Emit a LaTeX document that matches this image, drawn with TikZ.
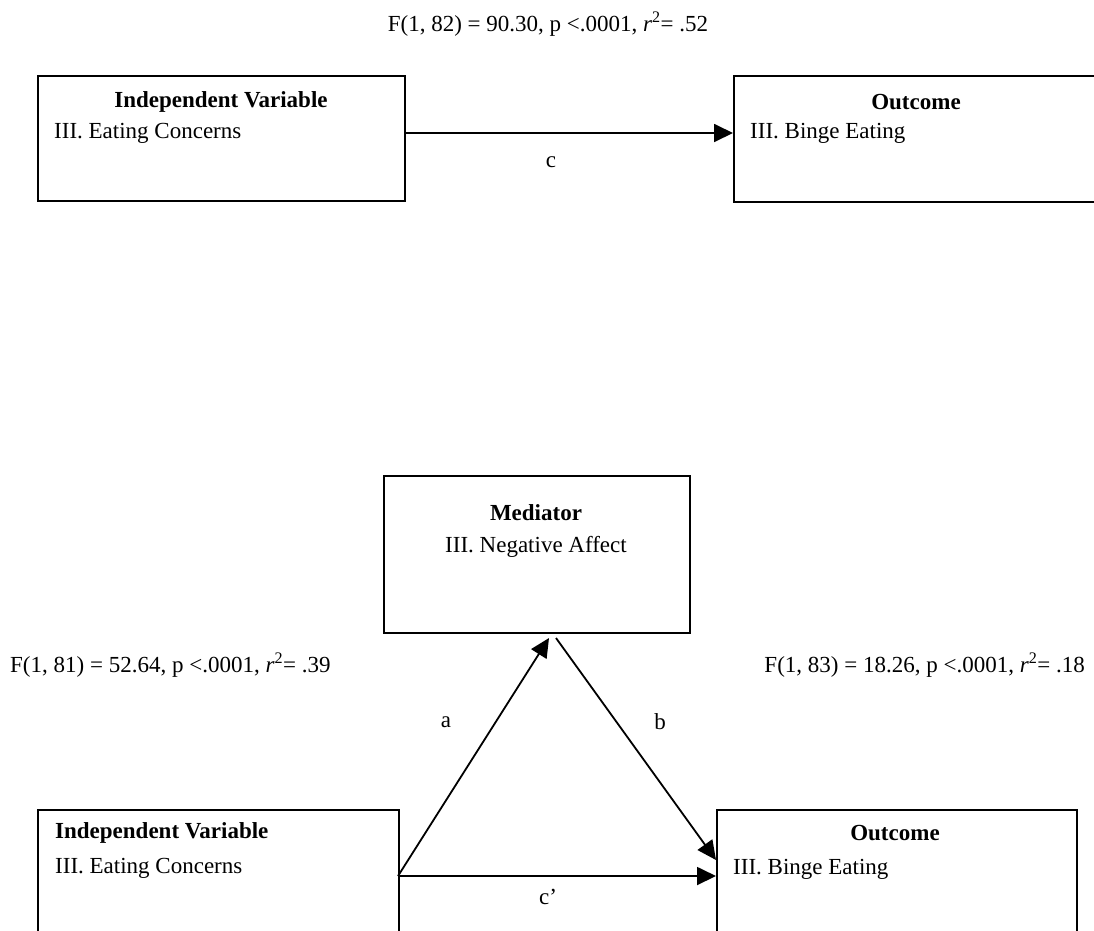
\documentclass[tikz,border=0pt]{standalone}
\usepackage{fontspec}
\setmainfont{Liberation Serif}
\usetikzlibrary{arrows.meta}
\begin{document}
\begin{tikzpicture}[x=1pt,y=-1pt,
  box/.style={draw=black,line width=1.8pt,rectangle,inner sep=0pt,anchor=north west},
  lbl/.style={inner sep=0pt,font=\fontsize{23}{28}\selectfont},
  conn/.style={line width=1.8pt,-{Triangle[length=19pt,width=18pt]}},
  every node/.style={font=\fontsize{23}{28}\selectfont}]
\useasboundingbox (0,0) rectangle (1094,930);
\clip (0,0) rectangle (1094,930);
% ---------- top model ----------
\node[lbl] (stat1) at (548,24) {F(1, 82) = 90.30, p <.0001, \textit{r}\textsuperscript{2}= .52};
\node[box,minimum width=367pt,minimum height=125pt] (ivA) at (37,75) {};
\node[lbl,font=\fontsize{23}{28}\selectfont\bfseries] (ivAh) at (221,102) {Independent Variable};
\node[lbl,anchor=west] (ivAt) at (54,133) {III. Eating Concerns};
\node[box,minimum width=400pt,minimum height=126pt] (ouA) at (733,75) {};
\node[lbl,font=\fontsize{23}{28}\selectfont\bfseries] (ouAh) at (916,102) {Outcome};
\node[lbl,anchor=west] (ouAt) at (750,133) {III. Binge Eating};
\draw[conn] (ivA.east |- ivAt) -- (ouA.west |- ivAt);
\node[lbl] (cA) at (551,162) {c};
% ---------- mediation model ----------
\node[box,minimum width=306pt,minimum height=157pt] (med) at (383,475) {};
\node[lbl,font=\fontsize{23}{28}\selectfont\bfseries] (medh) at (536,513) {Mediator};
\node[lbl] (medt) at (536,547) {III. Negative Affect};
\node[lbl,anchor=west] (stat2) at (10,665) {F(1, 81) = 52.64, p <.0001, \textit{r}\textsuperscript{2}= .39};
\node[lbl,anchor=east] (stat3) at (1085,665) {F(1, 83) = 18.26, p <.0001, \textit{r}\textsuperscript{2}= .18};
\node[box,minimum width=361pt,minimum height=180pt] (ivB) at (37,809) {};
\node[lbl,anchor=west,font=\fontsize{23}{28}\selectfont\bfseries] (ivBh) at (55,833) {Independent Variable};
\node[lbl,anchor=west] (ivBt) at (55,868) {III. Eating Concerns};
\node[box,minimum width=360pt,minimum height=180pt] (ouB) at (716,809) {};
\node[lbl,font=\fontsize{23}{28}\selectfont\bfseries] (ouBh) at (895,833) {Outcome};
\node[lbl,anchor=west] (ouBt) at (733,869) {III. Binge Eating};
\coordinate (src) at (398,876);
\coordinate (aEnd) at (549,638);
\coordinate (bStart) at (556,638);
\coordinate (bEnd) at (716,860);
\draw[conn] (src) -- (aEnd);
\draw[conn] (bStart) -- (bEnd);
\draw[conn] (src) -- (ouB.west |- src);
\node[lbl] (la) at (446,722) {a};
\node[lbl] (lb) at (660,722) {b};
\node[lbl] (lc) at (548,897) {c’};
\end{tikzpicture}
\end{document}
